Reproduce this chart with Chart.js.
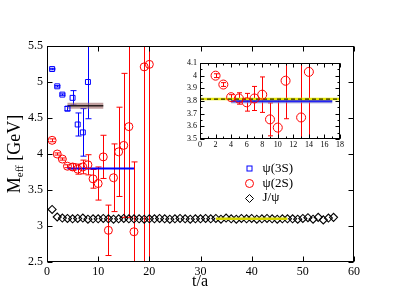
<!DOCTYPE html>
<html>
<head>
<meta charset="utf-8">
<script src="https://cdn.jsdelivr.net/npm/chart.js@4.4.1/dist/chart.umd.min.js"></script>
<style>
  html, body { margin: 0; padding: 0; background: #fff; }
  #wrap { position: relative; width: 399px; height: 308px; }
  #main { position: absolute; left: 0; top: 0; }
  #inset { position: absolute; left: 170px; top: 50px; }
</style>
</head>
<body>
<div id="wrap">
  <canvas id="main" width="399" height="308"></canvas>
  <canvas id="inset" width="180" height="100"></canvas>
</div>
<script>
// psi(3S) effective mass
const psi3S_t = [1, 2, 3, 4, 5, 6, 7, 8];
const psi3S_m = [5.18, 4.94, 4.825, 4.63, 4.78, 4.41, 4.30, 5.00];
const psi3S_err = [0.01, 0.01, 0.01, 0.03, 0.10, 0.16, 0.33, 0.51];

// psi(2S)
const psi2S_t = [1, 2, 3, 4, 5, 6, 7, 8, 9, 10, 11, 12, 13, 14, 15, 16, 17, 19, 20];
const psi2S_m = [4.19, 4.00, 3.93, 3.83, 3.82, 3.79, 3.82, 3.85, 3.655, 3.59, 3.96, 2.94, 3.67, 4.03, 4.12, 4.38, 2.92, 5.21, 5.245];
const psi2S_err = [0.02, 0.015, 0.015, 0.02, 0.045, 0.07, 0.095, 0.14, 0.13, 0.23, 0.30, 0.35, 0.47, 0.62, 1.0, 1.26, 0.97, 3.0, 3.0];

// J/psi
const jpsi_t = [];
for (let i = 1; i <= 56; i++) jpsi_t.push(i);
const jpsi_m = [3.23, 3.125, 3.11, 3.105, 3.10, 3.105, 3.11, 3.095, 3.10, 3.10,
  3.105, 3.10, 3.095, 3.10, 3.105, 3.10, 3.10, 3.10, 3.095, 3.10,
  3.10, 3.105, 3.10, 3.095, 3.10, 3.105, 3.10, 3.095, 3.10, 3.10,
  3.105, 3.10, 3.105, 3.095, 3.11, 3.10, 3.095, 3.105, 3.10, 3.105,
  3.095, 3.10, 3.105, 3.10, 3.095, 3.10, 3.10, 3.10, 3.095, 3.105,
  3.115, 3.095, 3.12, 3.085, 3.11, 3.12];

// plateau fits: [t start, t end], mass
const fit3S_range = [4, 11], fit3S_m = 4.67;
const fit2S_range = [4, 17], fit2S_m = 3.80;
const fitJpsi_range = [33, 47], fitJpsi_m = 3.10;
const insetRef_range = [0, 18], insetRef_m = 3.815;
const insetLastT = 14;

const xTicksMain = [0, 60, 10];
const yTicksMain = [2.5, 5.5, 0.5];
const xTicksInset = [0, 18, 2];
const yTicksInset = [3.5, 4.1, 0.1];

const serif = "'Liberation Serif', 'DejaVu Serif', serif";

function pts(ts, ms) { return ts.map((t, i) => ({x: t, y: ms[i]})); }
function seg(r, m) { return [{x: r[0], y: m}, {x: r[1], y: m}]; }
function fmt(v) { return String(+v.toFixed(2)); }

const errorBars = {
  id: 'errorBars',
  beforeDatasetsDraw(chart) {
    const {ctx, chartArea: a, scales: {x, y}} = chart;
    ctx.save();
    ctx.beginPath();
    ctx.rect(a.left, a.top, a.right - a.left, a.bottom - a.top);
    ctx.clip();
    chart.data.datasets.forEach(ds => {
      if (!ds.errors) return;
      ctx.strokeStyle = ds.borderColor;
      ctx.lineWidth = 1;
      const cap = ds.capSize || 3;
      ds.data.forEach((p, j) => {
        const px = Math.round(x.getPixelForValue(p.x)) + 0.5;
        const top = y.getPixelForValue(p.y + ds.errors[j]);
        const bot = y.getPixelForValue(p.y - ds.errors[j]);
        ctx.beginPath();
        ctx.moveTo(px, top); ctx.lineTo(px, bot);
        ctx.moveTo(px - cap, top); ctx.lineTo(px + cap, top);
        ctx.moveTo(px - cap, bot); ctx.lineTo(px + cap, bot);
        ctx.stroke();
      });
    });
    ctx.restore();
  }
};

const frameTicks = {
  id: 'frameTicks',
  afterDraw(chart, args, o) {
    const {ctx, chartArea: a, scales: {x, y}} = chart;
    const L = Math.round(a.left) + 0.5, R = Math.round(a.right) - 0.5;
    const T = Math.round(a.top) + 0.5, B = Math.round(a.bottom) - 0.5;
    ctx.save();
    ctx.strokeStyle = '#000';
    ctx.lineWidth = 1;
    ctx.strokeRect(L, T, R - L, B - T);
    ctx.beginPath();
    const tickX = (v, len) => {
      const px = Math.round(x.getPixelForValue(v)) + 0.5;
      ctx.moveTo(px, B); ctx.lineTo(px, B - len);
      ctx.moveTo(px, T); ctx.lineTo(px, T + len);
    };
    const tickY = (v, len) => {
      const py = Math.round(y.getPixelForValue(v)) + 0.5;
      ctx.moveTo(L, py); ctx.lineTo(L + len, py);
      ctx.moveTo(R, py); ctx.lineTo(R - len, py);
    };
    x.ticks.forEach(t => tickX(t.value, o.major));
    y.ticks.forEach(t => tickY(t.value, o.major));
    if (o.minorX) for (let v = x.min; v <= x.max + 1e-9; v += o.minorX) tickX(v, o.minor);
    if (o.minorY) for (let v = y.min; v <= y.max + 1e-9; v += o.minorY) tickY(v, o.minor);
    ctx.stroke();
    ctx.restore();
  }
};

const annotateMain = {
  id: 'annotateMain',
  afterDraw(chart) {
    const ctx = chart.ctx;
    ctx.save();
    ctx.fillStyle = '#000';
    // x title
    ctx.font = '16px ' + serif;
    ctx.textAlign = 'center';
    ctx.textBaseline = 'alphabetic';
    ctx.fillText('t/a', 200, 286);
    // y title with subscript
    ctx.translate(20, 154);
    ctx.rotate(-Math.PI / 2);
    ctx.textAlign = 'left';
    const big = '18px ' + serif, small = '11px ' + serif;
    ctx.font = big; const wM = ctx.measureText('M').width;
    ctx.font = small; const wS = ctx.measureText('eff').width;
    ctx.font = big; const wG = ctx.measureText(' [GeV]').width;
    let xx = -(wM + wS + wG) / 2;
    ctx.font = big; ctx.fillText('M', xx, 0); xx += wM;
    ctx.font = small; ctx.fillText('eff', xx, 3); xx += wS;
    ctx.font = big; ctx.fillText(' [GeV]', xx, 0);
    ctx.restore();

    // legend
    ctx.save();
    ctx.lineWidth = 1;
    const lx = 249.5;
    ctx.strokeStyle = 'blue';
    ctx.strokeRect(lx - 2.5, 166, 5, 5);
    ctx.strokeStyle = 'red';
    ctx.beginPath(); ctx.arc(lx, 183.5, 4, 0, Math.PI * 2); ctx.stroke();
    ctx.strokeStyle = '#000';
    ctx.beginPath();
    ctx.moveTo(lx - 4, 198.5); ctx.lineTo(lx, 194.5); ctx.lineTo(lx + 4, 198.5); ctx.lineTo(lx, 202.5); ctx.closePath();
    ctx.stroke();
    ctx.fillStyle = '#000';
    ctx.font = '13px ' + serif;
    ctx.textAlign = 'left';
    ctx.textBaseline = 'middle';
    const names = ['ψ(3S)', 'ψ(2S)', 'J/ψ'];
    [168.5, 183.5, 198].forEach((ly, i) => ctx.fillText(names[i], 262.5, ly));
    ctx.restore();
  }
};

const fitLine = (data, color, width, extra) => Object.assign({
  data, showLine: true, borderColor: color, borderWidth: width, pointRadius: 0, fill: false
}, extra || {});

new Chart(document.getElementById('main'), {
  type: 'scatter',
  data: {
    datasets: [
      fitLine(seg(fitJpsi_range, fitJpsi_m), '#d4d400', 2.5),
      {label: 'ψ(3S)', data: pts(psi3S_t, psi3S_m), errors: psi3S_err, capSize: 3,
       pointStyle: 'rect', pointRadius: 3.5, borderColor: 'blue', backgroundColor: 'transparent', borderWidth: 1},
      {label: 'ψ(2S)', data: pts(psi2S_t, psi2S_m), errors: psi2S_err, capSize: 3,
       pointStyle: 'circle', pointRadius: 4, borderColor: 'red', backgroundColor: 'transparent', borderWidth: 1},
      {label: 'J/ψ', data: pts(jpsi_t, jpsi_m),
       pointStyle: 'rectRot', pointRadius: 4, borderColor: '#000', backgroundColor: 'transparent', borderWidth: 1.1},
      fitLine(seg(fit3S_range, fit3S_m), '#2b1f1f', 1.5),
      fitLine(seg(fit3S_range, fit3S_m), 'rgba(150,95,95,0.6)', 6),
      fitLine(seg(fit2S_range, fit2S_m), 'blue', 2)
    ]
  },
  options: {
    responsive: false,
    animation: false,
    devicePixelRatio: 1,
    layout: {padding: {left: 0, right: 45, top: 46, bottom: 0}},
    plugins: {legend: {display: false}, tooltip: {enabled: false},
      frameTicks: {major: 5, minor: 0}},
    scales: {
      x: {
        type: 'linear', min: xTicksMain[0], max: xTicksMain[1],
        afterFit: s => { s.height = 46; },
        ticks: {stepSize: xTicksMain[2], color: '#000', padding: 3, maxRotation: 0, font: {family: serif, size: 12}},
        grid: {display: false, drawTicks: false}, border: {display: false}
      },
      y: {
        type: 'linear', min: yTicksMain[0], max: yTicksMain[1],
        afterFit: s => { s.width = 47; },
        ticks: {stepSize: yTicksMain[2], color: '#000', padding: 4, callback: fmt, font: {family: serif, size: 12}},
        grid: {display: false, drawTicks: false}, border: {display: false}
      }
    }
  },
  plugins: [errorBars, frameTicks, annotateMain]
});

// inset: zoom on psi(2S) plateau
const nIn = psi2S_t.filter(t => t <= insetLastT).length;
new Chart(document.getElementById('inset'), {
  type: 'scatter',
  data: {
    datasets: [
      {data: pts(psi2S_t.slice(0, nIn), psi2S_m.slice(0, nIn)), errors: psi2S_err.slice(0, nIn), capSize: 2.5,
       pointStyle: 'circle', pointRadius: 4.5, borderColor: 'red', backgroundColor: 'transparent', borderWidth: 1},
      fitLine(seg(insetRef_range, insetRef_m), '#000', 1, {borderDash: [4, 3]}),
      fitLine(seg(insetRef_range, insetRef_m), '#e6e600', 2.5),
      fitLine(seg(fit2S_range, fit2S_m), 'blue', 1.5),
      fitLine(seg(fit2S_range, fit2S_m), 'rgba(100,100,210,0.75)', 4.5)
    ]
  },
  options: {
    responsive: false,
    animation: false,
    devicePixelRatio: 1,
    layout: {padding: {left: 0, right: 10, top: 13, bottom: 0}},
    plugins: {legend: {display: false}, tooltip: {enabled: false},
      frameTicks: {major: 4, minor: 2, minorX: 1, minorY: 0.05}},
    scales: {
      x: {
        type: 'linear', min: xTicksInset[0], max: xTicksInset[1],
        afterFit: s => { s.height = 11; },
        ticks: {stepSize: xTicksInset[2], color: '#000', padding: 1, maxRotation: 0, autoSkip: false, font: {family: serif, size: 8}},
        grid: {display: false, drawTicks: false}, border: {display: false}
      },
      y: {
        type: 'linear', min: yTicksInset[0], max: yTicksInset[1],
        afterFit: s => { s.width = 30; },
        ticks: {stepSize: yTicksInset[2], color: '#000', padding: 3, callback: fmt, font: {family: serif, size: 8}},
        grid: {display: false, drawTicks: false}, border: {display: false}
      }
    }
  },
  plugins: [errorBars, frameTicks]
});
</script>
</body>
</html>
